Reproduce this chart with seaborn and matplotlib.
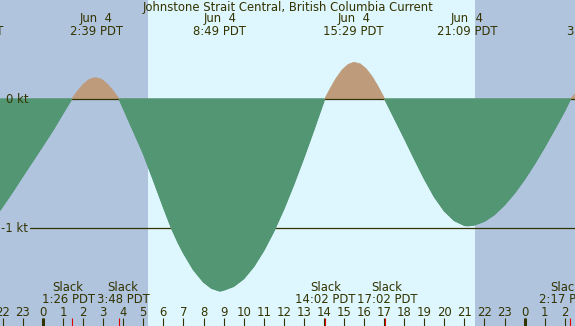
import numpy as np
import pandas as pd
import matplotlib
matplotlib.use("Agg")
import matplotlib.pyplot as plt
import seaborn as sns

sns.set_style("white")
plt.rcParams["font.family"] = ["DejaVu Sans"]

# ---------------- data (hours after Jun 4 00:00 PDT, knots) ----------------
hours = [-2.14, -1.5, -1.0, -0.5, 0.0, 0.5, 1.0, 1.433,
         1.75, 2.0, 2.25, 2.45, 2.65, 2.85, 3.0, 3.25, 3.5, 3.8,
         4.0, 4.5, 5.0, 5.5, 6.0, 6.41, 6.75, 7.0, 7.5, 8.0, 8.4, 8.817,
         9.0, 9.5, 10.0, 10.5, 11.0, 11.5, 12.0, 12.5, 13.0, 13.5, 14.033,
         14.3, 14.6, 14.9, 15.2, 15.483, 15.8, 16.1, 16.4, 16.7, 17.033,
         17.5, 18.0, 18.5, 19.0, 19.5, 20.0, 20.5, 21.0, 21.15,
         21.5, 22.0, 22.5, 23.0, 23.5, 24.0, 24.5, 25.0, 25.5, 26.0,
         26.283, 26.51]
speed = [-0.86, -0.715, -0.595, -0.478, -0.36, -0.24, -0.11, 0.0,
         0.067, 0.113, 0.146, 0.161, 0.165, 0.157, 0.144, 0.110, 0.064, 0.0,
         -0.07, -0.245, -0.42, -0.625, -0.835, -1.0, -1.115, -1.19, -1.32, -1.415, -1.463, -1.485,
         -1.478, -1.449, -1.39, -1.296, -1.172, -1.023, -0.851, -0.659, -0.453, -0.237, 0.0,
         0.078, 0.159, 0.224, 0.267, 0.284, 0.273, 0.235, 0.175, 0.097, 0.0,
         -0.145, -0.30, -0.46, -0.615, -0.755, -0.865, -0.94, -0.977, -0.98,
         -0.974, -0.945, -0.893, -0.818, -0.727, -0.62, -0.50, -0.37, -0.232, -0.09,
         0.0, 0.04]
assert len(hours) == len(speed)

peak_hours = [-3.483, 2.65, 8.817, 15.483, 21.15, 27.45]
peak_dates = ["Jun  3", "Jun  4", "Jun  4", "Jun  4", "Jun  4", "Jun  5"]
peak_times = ["20:31 PDT", "2:39 PDT", "8:49 PDT", "15:29 PDT", "21:09 PDT", "3:27 PDT"]

slack_hours = [1.433, 3.8, 14.033, 17.033, 26.283]
slack_times = ["1:26 PDT", "3:48 PDT", "14:02 PDT", "17:02 PDT", "2:17 PDT"]

sunrise_hour = 5.22
sunset_hour = 21.52

tick_hours = list(range(-2, 27))
tick_labels = [str(h % 24) for h in tick_hours]
midnight_hours = [0, 24]

level_values = [0, -1]
level_labels = ["0 kt", "-1 kt"]

title = "Johnstone Strait Central, British Columbia Current"

# ---------------- style ----------------
W, H = 575, 326
NIGHT = "#B0C4DE"
DAY = "#DEF6FD"
GREEN = "#529673"
BROWN = "#BE9B7B"
DARK = "#333300"
FS = 8.4

x_lo, x_hi = -2.14, 26.51
y_lo, y_hi = -1.7556, 0.7657

fig = plt.figure(figsize=(W / 100, H / 100), dpi=100)
ax = fig.add_axes([0, 0, 1, 1])
ax.set_facecolor(DAY)
for s in ax.spines.values():
    s.set_visible(False)

ax.axvspan(x_lo - 1, sunrise_hour, color=NIGHT, lw=0, zorder=0)
ax.axvspan(sunset_hour, x_hi + 1, color=NIGHT, lw=0, zorder=0)

# reference lines
ax.axhline(-1, xmin=30 / W, color=DARK, lw=0.9, zorder=1)
ax.axhline(0, xmin=30 / W, color=DARK, lw=0.9, zorder=2.5)

h_arr = np.array(hours)
v_arr = np.array(speed)
ax.fill_between(h_arr, v_arr, 0, where=v_arr >= 0, interpolate=True,
                color=BROWN, lw=0, zorder=2)
ax.fill_between(h_arr, v_arr, 0, where=v_arr <= 0, interpolate=True,
                facecolor=GREEN, edgecolor=GREEN, lw=1.0, zorder=3)

# curve outline per segment between slacks
rows = []
for h, v in zip(hours, speed):
    k = int(np.searchsorted(slack_hours, h, side="left"))
    rows.append((h, v, k))
    if h in slack_hours:
        rows.append((h, v, k + 1))
df = pd.DataFrame(rows, columns=["hour", "kt", "seg"])
seg_dir = df.groupby("seg")["kt"].max().gt(0).map({True: "flood", False: "ebb"})
df["dir"] = df["seg"].map(seg_dir)
sns.lineplot(data=df, x="hour", y="kt", hue="dir", units="seg", estimator=None,
             palette={"ebb": GREEN, "flood": BROWN}, linewidth=0.5,
             legend=False, ax=ax, zorder=4)

ax.set_xlim(x_lo, x_hi)
ax.set_ylim(y_lo, y_hi)
ax.set_xlabel("")
ax.set_ylabel("")
ax.set_yticks([])

# hour ticks along the bottom
ax.set_xticks(tick_hours, tick_labels)
ax.tick_params(axis="x", direction="in", length=6.1, width=0.8, color=DARK,
               labelcolor=DARK, labelsize=FS, pad=-14.3, bottom=True)
ax.set_axisbelow(False)
xt = ax.get_xaxis_transform()
ax.vlines(midnight_hours, 0, 8.5 / H, transform=xt, color=DARK, lw=2.2, zorder=5)
ax.vlines(slack_hours, 0, 8.5 / H, transform=xt, color="#E00000", lw=0.8, zorder=5)

# level labels
for val, lab in zip(level_values, level_labels):
    ax.text(28 / W, val, lab, transform=ax.get_yaxis_transform(), ha="right",
            va="center", fontsize=FS, color=DARK, zorder=6)

# title
ax.text(0.5, 1 - 7 / H, title, transform=ax.transAxes, ha="center", va="center",
        fontsize=FS, color=DARK, zorder=6)

# peak labels
for h, d, t in zip(peak_hours, peak_dates, peak_times):
    ax.text(h, 1 - 25 / H, f"{d}\n{t}", transform=xt, ha="center", va="center",
            fontsize=FS, color=DARK, linespacing=0.95, zorder=6, clip_on=False)

# slack labels
slack_dx = [-3.5, 4, 1, 2, -4.5]
for h, t, dx in zip(slack_hours, slack_times, slack_dx):
    ax.annotate(f"Slack\n{t}", xy=(h, 1 - 293.5 / H), xycoords=xt,
                xytext=(dx, 0), textcoords="offset pixels", ha="center",
                va="center", fontsize=FS, color=DARK, linespacing=0.95, zorder=6)

fig.savefig("out.png", dpi=100, facecolor=DAY)
